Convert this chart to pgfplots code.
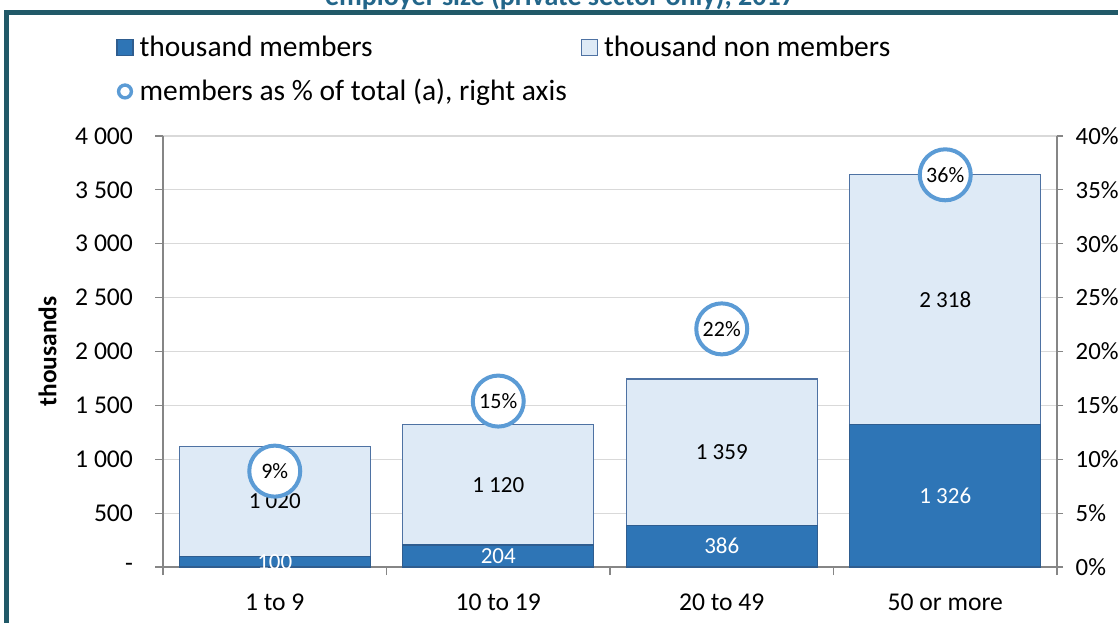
\documentclass[border=0pt]{standalone}
\usepackage{fontspec}
\setmainfont{Carlito}
\usepackage{pgfplots}
\usepackage{pgfplotstable}
\pgfplotsset{compat=1.18}

\definecolor{memblue}{HTML}{2E75B6}
\definecolor{memedge}{HTML}{2F5D8F}
\definecolor{nonfill}{HTML}{DEEAF6}
\definecolor{nonedge}{HTML}{4E72A3}
\definecolor{circblue}{HTML}{5B9BD5}
\definecolor{axisgray}{HTML}{868686}
\definecolor{gridgray}{HTML}{D9D9D9}
\definecolor{frameteal}{HTML}{215968}
\definecolor{titleblue}{HTML}{23668A}

% employer size, members / non members (thousands), members as % of total
\pgfplotstableread{
x m n p
0 100 1020 8.9
1 204 1120 15.4
2 386 1359 22.1
3 1326 2318 36.4
}\datatable

\begin{document}
\begin{tikzpicture}
\useasboundingbox (0,0) rectangle (559pt,-311pt);
\fill[white] (0,0) rectangle (559pt,-311pt);
\draw[frameteal, line width=2.5pt] (3.25pt,-6.25pt) rectangle (575pt,-330pt);
\node[anchor=base, font=\fontsize{14}{16}\selectfont\bfseries, text=titleblue]
  at (280pt,-2.5pt) {employer size (private sector only), 2017};

\begin{axis}[
  at={(81.5pt,-283.5pt)}, anchor=south west,
  scale only axis, width=447pt, height=215.5pt,
  xmin=-0.5, xmax=3.5, ymin=0, ymax=4000,
  ybar stacked, bar width=0.855,
  axis x line*=bottom, axis y line*=left,
  axis line style={draw=axisgray, line width=0.6pt, -},
  xtick={0,1,2,3},
  xticklabels={1 to 9,10 to 19,20 to 49,50 or more},
  minor xtick={-0.5,0.5,1.5,2.5,3.5},
  major x tick style={draw=none},
  minor x tick style={draw=axisgray, line width=0.6pt},
  minor tick length=4pt,
  ytick={0,500,...,4000},
  yticklabels={-,500,1 000,1 500,2 000,2 500,3 000,3 500,4 000},
  y tick style={draw=axisgray, line width=0.6pt},
  tick align=outside, major tick length=4pt,
  ymajorgrids, grid style={draw=gridgray, line width=0.6pt},
  tick label style={font=\fontsize{12.8}{14}\selectfont, text=black},
  xticklabel style={yshift=-6pt},
  yticklabel style={xshift=-7.5pt},
  ylabel={thousands},
  ylabel style={font=\fontsize{12.7}{14}\selectfont\bfseries,
    at={(axis description cs:-0.129,0.5)}, anchor=center},
]
\addplot[fill=memblue, draw=memedge, line width=0.6pt,
  point meta=explicit,
  nodes near coords={\pgfmathprintnumber[assume math mode=true,1000 sep={\ }]{\pgfplotspointmeta}},
  every node near coord/.append style={anchor=center, text=white,
    font=\fontsize{11.5}{12}\selectfont}]
  table[x=x, y=m, meta=m] {\datatable};
\addplot[fill=nonfill, draw=nonedge, line width=0.6pt,
  point meta=explicit,
  nodes near coords={\pgfmathprintnumber[assume math mode=true,1000 sep={\ }]{\pgfplotspointmeta}},
  every node near coord/.append style={anchor=center, text=black,
    font=\fontsize{11.5}{12}\selectfont}]
  table[x=x, y=n, meta=n] {\datatable};
\end{axis}

\begin{axis}[
  at={(81.5pt,-283.5pt)}, anchor=south west,
  scale only axis, width=447pt, height=215.5pt,
  xmin=-0.5, xmax=3.5, ymin=0, ymax=40,
  axis x line=none, axis y line*=right,
  axis line style={draw=axisgray, line width=0.6pt, -},
  ytick={0,5,...,40},
  yticklabel={\pgfmathprintnumber[assume math mode=true]{\tick}\%},
  y tick style={draw=axisgray, line width=0.6pt},
  tick align=outside, major tick length=3pt,
  tick label style={font=\fontsize{12.4}{14}\selectfont, text=black},
  yticklabel style={xshift=2.8pt},
  legend columns=2,
  legend cell align=left,
  legend style={at={(axis description cs:-0.0526,1.243)}, anchor=north west,
    draw=none, fill=none, font=\fontsize{14.75}{17}\selectfont,
    inner sep=0pt, row sep=6pt, nodes={inner sep=2pt},
    /tikz/every odd column/.append style={column sep=1pt},
    /tikz/every even column/.append style={column sep=5pt}},
]
\addlegendimage{legend image code/.code={\draw[fill=memblue, draw=memedge, line width=0.6pt] (0pt,-4pt) rectangle (8pt,4pt);}}
\addlegendentry{thousand members}
\addlegendimage{legend image code/.code={\draw[fill=nonfill, draw=nonedge, line width=0.6pt] (0pt,-4pt) rectangle (8pt,4pt);}}
\addlegendentry{thousand non members}
\addplot[only marks, mark=*, mark size=12.75pt,
  mark options={fill=white, draw=circblue, line width=2pt},
  point meta=explicit,
  nodes near coords={\pgfmathprintnumber[fixed,precision=0,assume math mode=true]{\pgfplotspointmeta}\%},
  every node near coord/.append style={anchor=center, text=black, font=\fontsize{11}{12}\selectfont},
  legend image code/.code={\draw[circblue, line width=1.7pt, fill=white] (4pt,0pt) circle (3.2pt);}]
  table[x=x, y=p, meta=p] {\datatable};
\addlegendentry{members as \% of total (a), right axis}
\end{axis}
\end{tikzpicture}
\end{document}
